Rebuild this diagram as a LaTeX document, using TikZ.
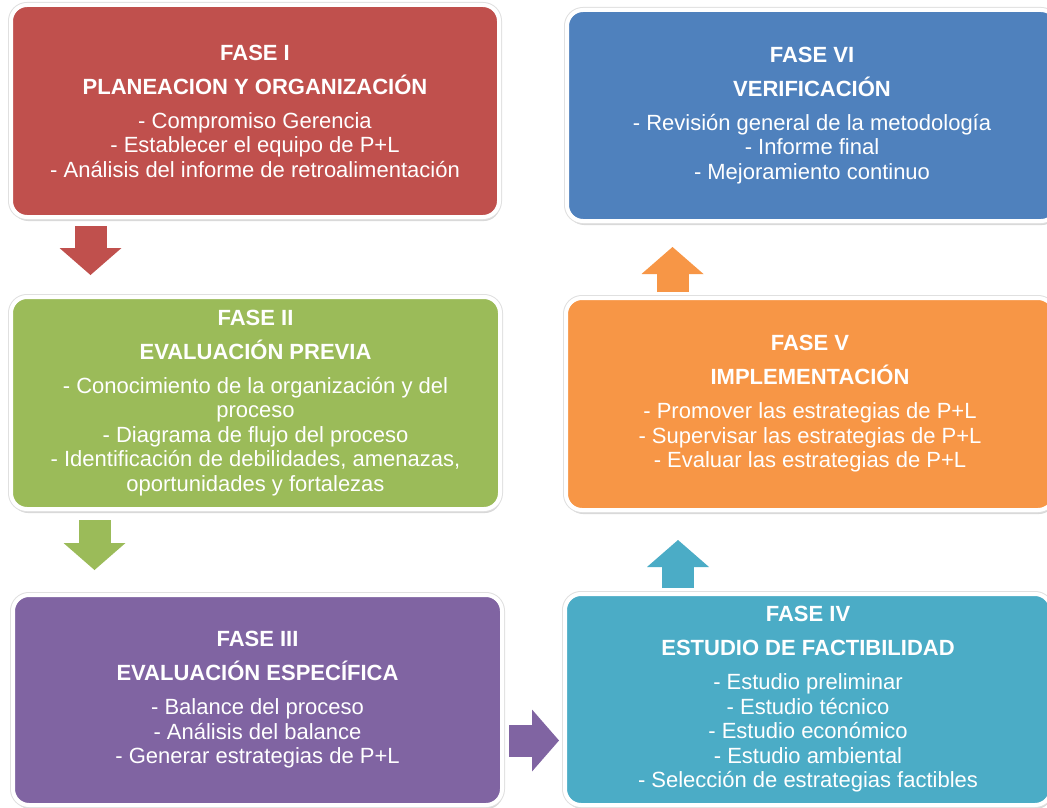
\documentclass[tikz,border=0pt]{standalone}
\usepackage{fontspec}
\setmainfont{Liberation Sans}
\usetikzlibrary{arrows.meta,shadows}
\definecolor{rojo}{HTML}{C0504D}
\definecolor{verde}{HTML}{9BBB59}
\definecolor{morado}{HTML}{8064A2}
\definecolor{turquesa}{HTML}{4BACC6}
\definecolor{naranja}{HTML}{F79646}
\definecolor{azul}{HTML}{4F81BD}
\newcommand{\titulo}[1]{\textbf{#1}\\[9.5pt]}
\tikzset{
  fase/.style={draw=white,line width=4pt,rounded corners=16pt,text=white,align=center,font=\fontsize{22}{24.5}\selectfont,inner sep=0pt,drop shadow={shadow xshift=1pt,shadow yshift=-4pt,opacity=0.3},preaction={draw=black!12,line width=6pt}},
  faseroja/.style={fase,fill=rojo},
  faseverde/.style={fase,fill=verde},
  fasemorada/.style={fase,fill=morado},
  faseturquesa/.style={fase,fill=turquesa},
  fasenaranja/.style={fase,fill=naranja},
  faseazul/.style={fase,fill=azul},
  flecha/.style={line width=32pt,-{Triangle[width=62pt,length=27pt,line width=0pt]}},
  flecharoja/.style={flecha,rojo},
  flechaverde/.style={flecha,verde},
  flechamorada/.style={flecha,morado},
  flechaturquesa/.style={flecha,turquesa},
  flechanaranja/.style={flecha,naranja},
}
\begin{document}
\begin{tikzpicture}[x=1pt,y=-1pt]
  \path[fill=white,use as bounding box] (0,0) rectangle (1047,808);
  % columna izquierda
  \node[faseroja,minimum width=488pt,minimum height=212pt] (f1) at (255,111) {\titulo{FASE I}\titulo{PLANEACION Y ORGANIZACIÓN}- Compromiso Gerencia\\- Establecer el equipo de P+L\\- Análisis del informe de retroalimentación};
  \node[faseverde,minimum width=489pt,minimum height=212pt] (f2) at (255.5,403) {\titulo{FASE II}\titulo{EVALUACIÓN PREVIA}- Conocimiento de la organización y del\\proceso\\- Diagrama de flujo del proceso\\- Identificación de debilidades, amenazas,\\oportunidades y fortalezas};
  \node[fasemorada,minimum width=489pt,minimum height=210pt] (f3) at (257.5,700) {\titulo{FASE III}\titulo{EVALUACIÓN ESPECÍFICA}- Balance del proceso\\- Análisis del balance\\- Generar estrategias de P+L};
  % columna derecha
  \node[faseturquesa,minimum width=486pt,minimum height=211pt] (f4) at (808,699.5) {\titulo{FASE IV}\titulo{ESTUDIO DE FACTIBILIDAD}- Estudio preliminar\\- Estudio técnico\\- Estudio económico\\- Estudio ambiental\\- Selección de estrategias factibles};
  \node[fasenaranja,minimum width=488pt,minimum height=212pt] (f5) at (810,404) {\titulo{FASE V}\titulo{IMPLEMENTACIÓN}- Promover las estrategias de P+L\\- Supervisar las estrategias de P+L\\- Evaluar las estrategias de P+L};
  \node[faseazul,minimum width=490pt,minimum height=211pt] (f6) at (812,115.5) {\titulo{FASE VI}\titulo{VERIFICACIÓN}- Revisión general de la metodología\\- Informe final\\- Mejoramiento continuo};
  % flechas
  \draw[flecharoja,shorten <=7pt,shorten >=20pt] ([xshift=81.5pt]f1.south west) -- ([xshift=81.5pt]f2.north west);
  \draw[flechaverde,shorten <=9pt,shorten >=23pt] ([xshift=85.5pt]f2.south west) -- ([xshift=83.5pt]f3.north west);
  \draw[flechamorada,shorten <=5pt,shorten >=4pt] ([yshift=66.5pt]f3.south east) -- ([yshift=66.5pt]f4.south west);
  \draw[flechaturquesa,shorten <=4pt,shorten >=28pt] ([xshift=115pt]f4.north west) -- ([xshift=114pt]f5.south west);
  \draw[flechanaranja,shorten <=4pt,shorten >=24pt] ([xshift=108.5pt]f5.north west) -- ([xshift=107.5pt]f6.south west);
\end{tikzpicture}
\end{document}
